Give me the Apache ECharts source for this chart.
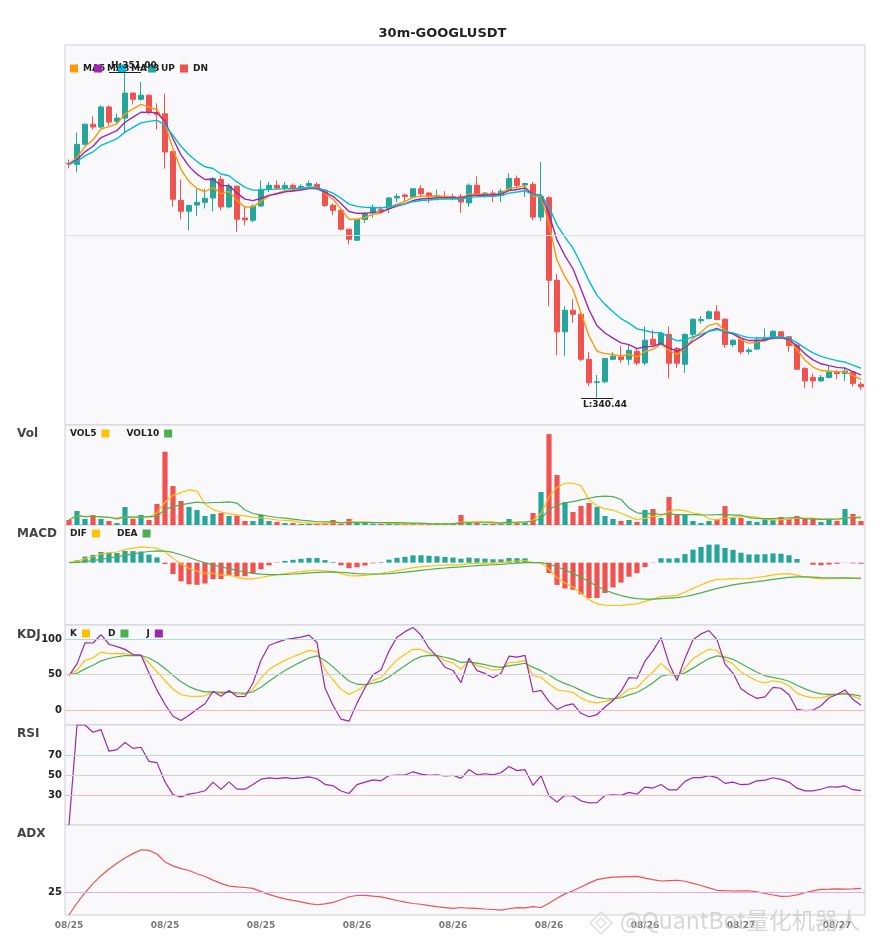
<!DOCTYPE html>
<html>
<head>
<meta charset="utf-8">
<title>30m-GOOGLUSDT</title>
<script src="https://cdn.jsdelivr.net/npm/echarts@6/dist/echarts.min.js"></script>
<style>
html, body { margin: 0; padding: 0; background: #fff; }
#chart { width: 885px; height: 950px; }
</style>
</head>
<body>
<div id="chart"></div>
<script>
var symbolName = '30m-GOOGLUSDT';
// first bar 08/25 08:00, one bar every 30 minutes
var startDay = 25, startHour = 8;

var opens = [348.04, 348.01, 348.66, 349.31, 349.22, 349.87, 349.41, 349.51, 350.32, 350.12,
	350.25, 349.69, 349.65, 348.43, 346.84, 346.49, 346.69, 346.78, 346.92, 347.52,
	346.63, 347.30, 346.27, 346.20, 346.66, 347.20, 347.33, 347.24, 347.33, 347.22,
	347.32, 347.36, 347.17, 346.68, 346.52, 345.91, 345.55, 346.22, 346.43, 346.54,
	346.58, 346.92, 347.02, 346.95, 347.22, 347.08, 346.96, 346.97, 346.93, 346.97,
	346.76, 347.33, 347.01, 347.08, 347.01, 347.19, 347.55, 347.34, 347.36, 346.30,
	346.93, 344.25, 342.58, 343.28, 343.15, 341.69, 340.94, 340.96, 341.69, 341.77,
	341.69, 341.95, 341.57, 342.34, 342.20, 342.50, 342.04, 341.53, 342.50, 342.94,
	343.01, 343.23, 342.99, 342.17, 342.33, 341.94, 342.02, 342.31, 342.38, 342.58,
	342.42, 342.15, 341.39, 341.10, 340.99, 341.10, 341.28, 341.23, 341.28, 340.88];
var closes = [348.02, 348.66, 349.31, 349.22, 349.87, 349.38, 349.51, 350.32, 350.12, 350.25,
	349.69, 349.63, 348.41, 346.88, 346.49, 346.68, 346.78, 346.91, 347.55, 346.63,
	347.30, 346.23, 346.21, 346.65, 347.19, 347.33, 347.24, 347.33, 347.24, 347.30,
	347.39, 347.22, 346.68, 346.52, 345.91, 345.58, 346.22, 346.41, 346.60, 346.50,
	346.92, 346.97, 346.97, 347.22, 347.06, 346.97, 347.00, 346.93, 346.97, 346.79,
	347.33, 347.01, 347.08, 347.01, 347.14, 347.55, 347.33, 347.39, 346.30, 346.97,
	344.25, 342.58, 343.28, 343.15, 341.69, 340.93, 340.96, 341.72, 341.79, 341.68,
	341.98, 341.57, 342.31, 342.15, 342.53, 341.56, 341.56, 342.50, 342.99, 342.98,
	343.23, 342.98, 342.17, 342.31, 341.93, 341.99, 342.31, 342.38, 342.60, 342.42,
	342.13, 341.37, 340.99, 340.99, 341.10, 341.28, 341.23, 341.31, 340.91, 340.80];
var highs = [348.17, 349.04, 349.34, 349.57, 349.92, 349.92, 349.66, 351.00, 350.34, 350.68,
	350.28, 349.99, 350.30, 348.43, 347.52, 346.68, 347.22, 347.22, 347.60, 347.65,
	347.39, 347.33, 346.63, 346.71, 347.49, 347.44, 347.49, 347.44, 347.39, 347.36,
	347.49, 347.43, 347.19, 346.74, 346.58, 345.91, 346.25, 346.47, 346.71, 346.65,
	346.95, 347.06, 347.06, 347.22, 347.33, 347.11, 347.19, 347.14, 347.06, 347.06,
	347.39, 347.62, 347.11, 347.17, 347.22, 347.73, 347.65, 347.40, 347.44, 348.09,
	346.97, 344.45, 343.41, 343.64, 343.18, 341.93, 341.18, 341.72, 341.93, 342.12,
	342.15, 342.04, 342.76, 342.63, 342.58, 342.76, 342.09, 342.53, 343.01, 343.09,
	343.28, 343.44, 343.01, 342.33, 342.37, 342.07, 342.42, 342.69, 342.63, 342.58,
	342.44, 342.20, 341.43, 341.23, 341.18, 341.47, 341.34, 341.44, 341.28, 340.96];
var lows = [347.88, 347.76, 348.63, 349.13, 349.18, 349.27, 349.34, 349.06, 349.95, 350.08,
	349.63, 349.14, 347.87, 346.63, 346.23, 345.87, 346.34, 346.58, 346.49, 346.52,
	346.58, 345.82, 346.03, 346.14, 346.63, 347.11, 347.22, 347.11, 347.11, 347.19,
	347.28, 347.19, 346.63, 346.36, 345.87, 345.42, 345.53, 346.11, 346.28, 346.41,
	346.43, 346.79, 346.79, 346.95, 346.97, 346.76, 346.84, 346.90, 346.84, 346.43,
	346.63, 347.01, 346.93, 346.79, 346.79, 347.17, 347.22, 346.95, 346.20, 346.17,
	343.41, 341.82, 341.80, 342.87, 341.63, 340.82, 340.44, 340.92, 341.66, 341.57,
	341.50, 341.50, 341.50, 342.09, 342.17, 341.07, 341.41, 341.25, 342.42, 342.85,
	342.98, 342.96, 342.07, 342.09, 341.85, 341.85, 341.99, 342.26, 342.33, 342.40,
	341.93, 341.34, 340.76, 340.76, 340.96, 341.07, 341.04, 340.99, 340.80, 340.69];
var volumes = [15, 42, 18, 30, 18, 12, 6, 54, 18, 30,
	15, 63, 220, 117, 72, 54, 45, 27, 33, 36,
	27, 28, 12, 12, 30, 12, 9, 6, 6, 3,
	4, 3, 6, 15, 4, 18, 6, 6, 4, 3,
	4, 3, 3, 4, 3, 3, 3, 3, 6, 30,
	6, 6, 3, 3, 3, 18, 6, 9, 36, 99,
	273, 150, 69, 39, 57, 66, 54, 27, 18, 12,
	15, 9, 45, 48, 21, 84, 33, 30, 12, 6,
	12, 18, 57, 21, 21, 12, 9, 21, 15, 24,
	18, 27, 18, 18, 9, 18, 12, 48, 33, 12];

var maPeriods = [5, 8, 13];
var maColors = ['#ff9800', '#9c27b0', '#00bcd4'];
var kdjLevels = [100, 50, 0];
var rsiLevels = [70, 50, 30];
var adxLevels = [25];

var upColor = '#26a69a', downColor = '#ef5350';
var font = 'DejaVu Sans';

function pad(n) { return n < 10 ? '0' + n : '' + n; }
var times = [];
for (var t = 0; t < closes.length; t++) {
	var m = startHour * 60 + t * 30;
	var day = startDay + Math.floor(m / 1440);
	var mm = m % 1440;
	times.push('08/' + pad(day) + ' ' + pad(Math.floor(mm / 60)) + ':' + pad(mm % 60));
}

//indicator helpers
function emaOf(arr, n) {
	var a = 2 / (n + 1), out = [], prev = 0;
	for (var i = 0; i < arr.length; i++) {
		prev = i === 0 ? arr[0] : prev + a * (arr[i] - prev);
		out.push(prev);
	}
	return out;
}
function smaOf(arr, n) {
	var out = [];
	for (var i = 0; i < arr.length; i++) {
		var s = 0, c = 0;
		for (var j = Math.max(0, i - n + 1); j <= i; j++) { s += arr[j]; c++; }
		out.push(s / c);
	}
	return out;
}
// wilder smoothing, started from zero
function rmaOf(arr, n) {
	var out = [], prev = 0;
	for (var i = 0; i < arr.length; i++) {
		prev = prev + (arr[i] - prev) / n;
		out.push(prev);
	}
	return out;
}
function r(v, d) { return +v.toFixed(d); }

var candleData = [], volUp = [], volDn = [];
for (var i = 0; i < closes.length; i++) {
	candleData.push([opens[i], closes[i], lows[i], highs[i]]);
	var up = closes[i] >= opens[i];
	volUp.push(up ? volumes[i] : '-');
	volDn.push(up ? '-' : volumes[i]);
}

var maLines = maPeriods.map(function(p) {
	return emaOf(closes, p).map(function(v) { return r(v, 3); });
});
var vol5 = smaOf(volumes, 5), vol10 = smaOf(volumes, 10);

//macd
var e12 = emaOf(closes, 12), e26 = emaOf(closes, 26);
var dif = e12.map(function(v, i) { return v - e26[i]; });
var dea = emaOf(dif, 9);
var macdHist = dif.map(function(v, i) { return r(2 * (v - dea[i]), 5); });
dif = dif.map(function(v) { return r(v, 5); });
dea = dea.map(function(v) { return r(v, 5); });

//kdj 9,3,3
var kLine = [], dLine = [], jLine = [];
var k = 50, d = 50;
for (var i = 0; i < closes.length; i++) {
	var ll = Infinity, hh = -Infinity;
	for (var j = Math.max(0, i - 8); j <= i; j++) {
		ll = Math.min(ll, lows[j]);
		hh = Math.max(hh, highs[j]);
	}
	var rsv = hh === ll ? 50 : (closes[i] - ll) / (hh - ll) * 100;
	k = (2 * k + rsv) / 3;
	d = (2 * d + k) / 3;
	kLine.push(r(k, 2));
	dLine.push(r(d, 2));
	jLine.push(r(3 * k - 2 * d, 2));
}

//rsi 14
var gains = [0], losses = [0];
for (var i = 1; i < closes.length; i++) {
	var ch = closes[i] - closes[i - 1];
	gains.push(Math.max(ch, 0));
	losses.push(Math.max(-ch, 0));
}
var ag = rmaOf(gains, 14), al = rmaOf(losses, 14);
var rsi = ag.map(function(g, i) {
	if (al[i] === 0) return g > 0 ? 100 : 0;
	return r(100 - 100 / (1 + g / al[i]), 2);
});

//adx 14
var trs = [highs[0] - lows[0]], pdm = [0], mdm = [0];
for (var i = 1; i < closes.length; i++) {
	var upMove = highs[i] - highs[i - 1], dnMove = lows[i - 1] - lows[i];
	pdm.push(upMove > dnMove && upMove > 0 ? upMove : 0);
	mdm.push(dnMove > upMove && dnMove > 0 ? dnMove : 0);
	trs.push(Math.max(highs[i] - lows[i], Math.abs(highs[i] - closes[i - 1]), Math.abs(lows[i] - closes[i - 1])));
}
var sTr = rmaOf(trs, 14), sP = rmaOf(pdm, 14), sM = rmaOf(mdm, 14);
var adx = [], adxPrev = 0;
for (var i = 0; i < closes.length; i++) {
	var pdi = sTr[i] ? 100 * sP[i] / sTr[i] : 0;
	var mdi = sTr[i] ? 100 * sM[i] / sTr[i] : 0;
	var dx = pdi + mdi === 0 ? 0 : 100 * Math.abs(pdi - mdi) / (pdi + mdi);
	adxPrev = adxPrev + 2 / 15 * (dx - adxPrev);
	adx.push(r(adxPrev, 2));
}

//high / low marks
var hi = Math.max.apply(null, highs), lo = Math.min.apply(null, lows);
var hiIdx = highs.indexOf(hi), loIdx = lows.indexOf(lo);
var yMin = lo - (hi - lo) / 12, yMax = hi + (hi - lo) / 12;

var myChart = echarts.init(document.getElementById('chart'));

var gridTops = [45, 425, 525, 625, 725, 825];
var gridHeights = [380, 100, 100, 100, 100, 90];
var grids = gridTops.map(function(top, i) {
	return {
		left: 65, right: 20, top: top, height: gridHeights[i],
		show: true, backgroundColor: '#f9f9fc', borderColor: '#cfcfd7', borderWidth: 1
	};
});
var xAxes = gridTops.map(function(top, i) {
	return {
		type: 'category', gridIndex: i, data: times, boundaryGap: true,
		axisLine: { show: false }, axisTick: { show: false }, splitLine: { show: false },
		axisLabel: {
			show: i === 5, interval: 11, margin: 6,
			color: '#777', fontSize: 9, fontWeight: 'bold', fontFamily: font,
			formatter: function(v) { return v.slice(0, 5); }
		}
	};
});
var yAxes = [
	{ gridIndex: 0, min: yMin, max: yMax, show: false },
	{ gridIndex: 1, min: 0, max: function(v) { return v.max * 1.1; }, show: false },
	{ gridIndex: 2, show: false,
		min: function(v) { return v.min - (v.max - v.min) * 0.32; },
		max: function(v) { return v.max + (v.max - v.min) * 0.32; } },
	{ gridIndex: 3, min: -21, max: 120, show: false },
	{ gridIndex: 4, min: 0, max: 100, show: false },
	{ gridIndex: 5, min: 0, max: 100, show: false }
];

var legendText = { fontSize: 9, fontWeight: 'bold', color: '#222', fontFamily: font };
function legendOf(names, left, top, extra) {
	var l = {
		data: names, left: left, top: top, padding: 0, icon: 'rect',
		itemWidth: 8, itemHeight: 8, itemGap: 17, textStyle: legendText
	};
	return Object.assign(l, extra || {});
}

function levelLines(levels, colors) {
	return {
		silent: true, symbol: ['none', 'none'],
		label: { position: 'start', color: '#222', fontSize: 10, fontWeight: 'bold', fontFamily: font, distance: 3 },
		data: levels.map(function(v, i) {
			return { yAxis: v, lineStyle: { color: colors[i], width: 1, type: 'solid' } };
		})
	};
}
function lineSeries(name, data, color, xi, extra) {
	var s = {
		name: name, type: 'line', data: data, xAxisIndex: xi, yAxisIndex: xi,
		symbol: 'none', smooth: false, lineStyle: { color: color, width: 1.2 }, itemStyle: { color: color }
	};
	return Object.assign(s, extra || {});
}
var markText = { color: '#222', fontSize: 9, fontWeight: 'bold', fontFamily: font };

var series = [{
	name: 'K线', type: 'candlestick', data: candleData, xAxisIndex: 0, yAxisIndex: 0,
	barWidth: '65%',
	itemStyle: { color: upColor, color0: downColor, borderColor: upColor, borderColor0: downColor },
	markLine: {
		silent: true, symbol: ['none', 'none'],
		data: [
			{ yAxis: (yMin + yMax) / 2, label: { show: false }, lineStyle: { color: '#dedee4', width: 1, type: 'solid' } },
			[{ coord: [times[hiIdx - 2], hi],
				label: Object.assign({ show: true, position: 'insideStartTop', distance: 2, formatter: 'H:' + hi.toFixed(2) }, markText),
				lineStyle: { color: '#222', width: 1, type: 'solid' } },
			 { coord: [times[hiIdx + 2], hi] }],
			[{ coord: [times[loIdx - 2], lo],
				label: Object.assign({ show: true, position: 'insideStartBottom', distance: 2, formatter: 'L:' + lo.toFixed(2) }, markText),
				lineStyle: { color: '#222', width: 1, type: 'solid' } },
			 { coord: [times[loIdx + 2], lo] }]
		]
	}
}];
maPeriods.forEach(function(p, i) {
	series.push(lineSeries('MA' + p, maLines[i], maColors[i], 0, { lineStyle: { color: maColors[i], width: 1.4 } }));
});
series.push(
	{ name: 'UP', type: 'bar', data: volUp, xAxisIndex: 1, yAxisIndex: 1, barWidth: '65%', barGap: '-100%', itemStyle: { color: upColor } },
	{ name: 'DN', type: 'bar', data: volDn, xAxisIndex: 1, yAxisIndex: 1, barWidth: '65%', barGap: '-100%', itemStyle: { color: downColor } },
	lineSeries('VOL5', vol5.map(function(v) { return r(v, 2); }), '#ffc107', 1),
	lineSeries('VOL10', vol10.map(function(v) { return r(v, 2); }), '#4caf50', 1),
	{ name: 'MACD', type: 'bar', data: macdHist, xAxisIndex: 2, yAxisIndex: 2, barWidth: '65%',
		itemStyle: { color: function(p) { return p.value >= 0 ? upColor : downColor; } } },
	lineSeries('DIF', dif, '#ffc107', 2),
	lineSeries('DEA', dea, '#4caf50', 2),
	lineSeries('K', kLine, '#ffc107', 3, { markLine: levelLines(kdjLevels, ['#a9ddd5', '#d2d2d6', '#f6b8b8']) }),
	lineSeries('D', dLine, '#4caf50', 3),
	lineSeries('J', jLine, '#9c27b0', 3),
	lineSeries('RSI', rsi, '#9c27b0', 4, { markLine: levelLines(rsiLevels, ['#a9ddd5', '#d2d2d6', '#f6b8b8']) }),
	lineSeries('ADX', adx, '#ef5350', 5, { markLine: levelLines(adxLevels, ['#e3aee8']) })
);

var panelTitle = { fontSize: 12, fontWeight: 'bold', color: '#444', fontFamily: font };
var option = {
	animation: false,
	backgroundColor: '#fff',
	title: [
		{ text: symbolName, left: 'center', top: 27, padding: 0,
			textStyle: { fontSize: 13, fontWeight: 'bold', color: '#222', fontFamily: font } },
		{ text: 'Vol', left: 17, top: 428, padding: 0, textStyle: panelTitle },
		{ text: 'MACD', left: 17, top: 528, padding: 0, textStyle: panelTitle },
		{ text: 'KDJ', left: 17, top: 629, padding: 0, textStyle: panelTitle },
		{ text: 'RSI', left: 17, top: 728, padding: 0, textStyle: panelTitle },
		{ text: 'ADX', left: 17, top: 828, padding: 0, textStyle: panelTitle }
	],
	legend: [
		legendOf(['MA5'], 70, 64),
		legendOf(['MA8'], 94, 64),
		legendOf(['MA13'], 118, 64),
		legendOf(['UP'], 148, 64),
		legendOf(['DN'], 180, 64),
		legendOf(['VOL5', 'VOL10'], 70, 429, { align: 'right' }),
		legendOf(['DIF', 'DEA'], 70, 529, { align: 'right', textStyle: Object.assign({ width: 22 }, legendText) }),
		legendOf(['K', 'D', 'J'], 70, 629, { align: 'right', itemGap: 18, textStyle: Object.assign({ width: 12 }, legendText) })
	],
	grid: grids,
	xAxis: xAxes,
	yAxis: yAxes,
	series: series,
	graphic: [
		{ type: 'polygon', z: 100,
			shape: { points: [[601, 912], [612, 923], [601, 934], [590, 923]] },
			style: { fill: 'none', stroke: '#dcdcdc', lineWidth: 1.5 } },
		{ type: 'polygon', z: 100,
			shape: { points: [[601, 918], [606, 923], [601, 928], [596, 923]] },
			style: { fill: 'none', stroke: '#dcdcdc', lineWidth: 1.2 } },
		{ type: 'text', left: 620, top: 909, z: 100,
			style: { text: '@QuantBot量化机器人', fontSize: 23, fontFamily: 'Noto Sans CJK SC',
				fontWeight: 'normal', fill: 'rgba(200,200,200,0.75)' } }
	]
};
myChart.setOption(option);
</script>
</body>
</html>
